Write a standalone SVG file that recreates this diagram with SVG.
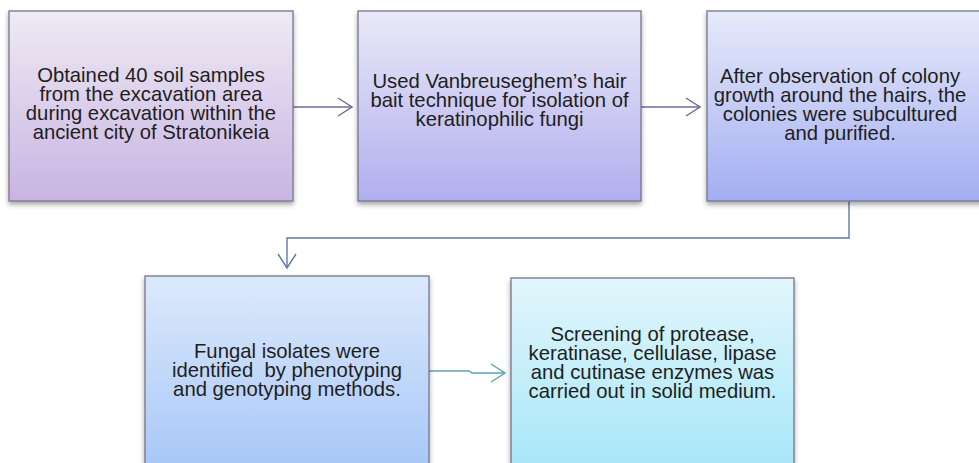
<svg xmlns="http://www.w3.org/2000/svg" width="979" height="463" viewBox="0 0 979 463">
<style>
.box{stroke:#75758a;stroke-width:1.3;filter:url(#sh)}
.t{font-family:"Liberation Sans",Arial,sans-serif;font-size:20.3px;fill:#1e1e1e;text-anchor:middle}
.c{fill:none;stroke-width:1.4}
</style>
<defs>
<filter id="sh" x="-10%" y="-10%" width="120%" height="125%">
<feDropShadow dx="0" dy="3" stdDeviation="2.5" flood-color="#000" flood-opacity="0.35"/>
</filter>
<linearGradient id="g1" x1="0" y1="0" x2="0" y2="1"><stop offset="0" stop-color="#efeaf4"/><stop offset="1" stop-color="#c8b4e2"/></linearGradient>
<linearGradient id="g2" x1="0" y1="0" x2="0" y2="1"><stop offset="0" stop-color="#eae9f8"/><stop offset="1" stop-color="#b1aeee"/></linearGradient>
<linearGradient id="g3" x1="0" y1="0" x2="0" y2="1"><stop offset="0" stop-color="#e7eafa"/><stop offset="1" stop-color="#a3aef2"/></linearGradient>
<linearGradient id="g4" x1="0" y1="0" x2="0" y2="1"><stop offset="0" stop-color="#dce9fb"/><stop offset="1" stop-color="#a6c6f8"/></linearGradient>
<linearGradient id="g5" x1="0" y1="0" x2="0" y2="1"><stop offset="0" stop-color="#e2f6fc"/><stop offset="1" stop-color="#a4e6f8"/></linearGradient>
<marker id="a1" viewBox="0 0 16 20" refX="15" refY="10" markerWidth="16" markerHeight="20" markerUnits="userSpaceOnUse" orient="auto"><path d="M1 1 L15 10 L1 19" fill="none" stroke="#6e6a96" stroke-width="1.4"/></marker>
<marker id="a2" viewBox="0 0 16 20" refX="15" refY="10" markerWidth="16" markerHeight="20" markerUnits="userSpaceOnUse" orient="auto"><path d="M1 1 L15 10 L1 19" fill="none" stroke="#5f78aa" stroke-width="1.4"/></marker>
<marker id="a3" viewBox="0 0 16 20" refX="15" refY="10" markerWidth="16" markerHeight="20" markerUnits="userSpaceOnUse" orient="auto"><path d="M1 1 L15 10 L1 19" fill="none" stroke="#5aa2b6" stroke-width="1.4"/></marker>
</defs>
<rect width="979" height="463" fill="#fff"/>
<g id="connectors">
<path class="c" d="M293 107 H352" stroke="#6e6a96" marker-end="url(#a1)"/>
<path class="c" d="M641 107 H700" stroke="#6e6a96" marker-end="url(#a1)"/>
<path class="c" d="M849 201 V238 H287 V268" stroke="#5f78aa" marker-end="url(#a2)"/>
<path class="c" d="M429 371 H469 L472 373 H505" stroke="#5aa2b6" marker-end="url(#a3)"/>
</g>
<g id="node1">
<rect class="box" x="9" y="11" width="284" height="190" fill="url(#g1)"/>
<text class="t" x="151" y="82">Obtained 40 soil samples</text>
<text class="t" x="151" y="101">from the excavation area</text>
<text class="t" x="151" y="120">during excavation within the</text>
<text class="t" x="151" y="139">ancient city of Stratonikeia</text>
</g>
<g id="node2">
<rect class="box" x="358" y="11" width="283" height="190" fill="url(#g2)"/>
<text class="t" x="499.5" y="88">Used Vanbreuseghem’s hair</text>
<text class="t" x="499.5" y="107">bait technique for isolation of</text>
<text class="t" x="499.5" y="126">keratinophilic fungi</text>
</g>
<g id="node3">
<rect class="box" x="707" y="11" width="278" height="190" fill="url(#g3)"/>
<text class="t" x="840" y="83">After observation of colony</text>
<text class="t" x="840" y="102">growth around the hairs, the</text>
<text class="t" x="840" y="121">colonies were subcultured</text>
<text class="t" x="840" y="140">and purified.</text>
</g>
<g id="node4">
<rect class="box" x="145" y="276" width="284" height="200" fill="url(#g4)"/>
<text class="t" x="287" y="358">Fungal isolates were</text>
<text class="t" x="287" y="377" xml:space="preserve">identified  by phenotyping</text>
<text class="t" x="287" y="396">and genotyping methods.</text>
</g>
<g id="node5">
<rect class="box" x="511" y="278" width="283" height="200" fill="url(#g5)"/>
<text class="t" x="652.5" y="341">Screening of protease,</text>
<text class="t" x="652.5" y="360">keratinase, cellulase, lipase</text>
<text class="t" x="652.5" y="379">and cutinase enzymes was</text>
<text class="t" x="652.5" y="398">carried out in solid medium.</text>
</g>
</svg>
